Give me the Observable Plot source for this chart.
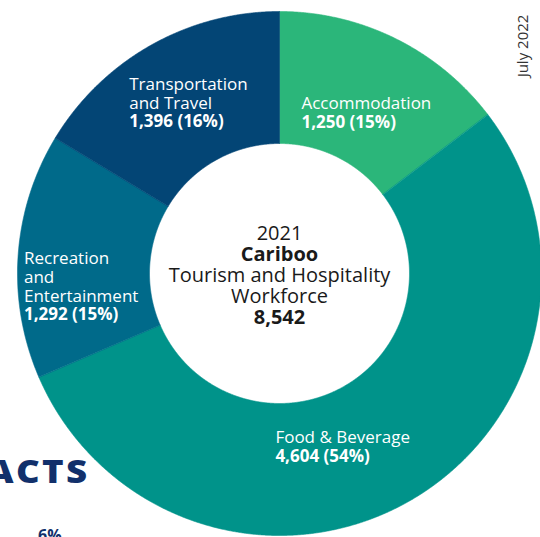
<!DOCTYPE html>
<html><head><meta charset="utf-8">
<script src="https://cdn.jsdelivr.net/npm/d3@7"></script>
<script src="https://cdn.jsdelivr.net/npm/@observablehq/plot@0.6"></script>
<style>
body{margin:0;background:#fff;}
#wrap{position:relative;width:540px;height:537px;overflow:hidden;font-family:"Open Sans",sans-serif;}
#wrap svg{position:absolute;left:0;top:0;}
.side{position:absolute;left:522px;top:46px;transform:translate(-50%,-50%) rotate(-90deg);font-size:15px;color:#333;white-space:nowrap;}
.facts{position:absolute;right:450px;top:450px;font-size:31px;font-weight:800;color:#12306b;letter-spacing:2px;white-space:nowrap;transform:scaleX(1.18);transform-origin:right center;}
.pct{position:absolute;left:38px;top:524px;font-size:16px;font-weight:700;color:#12306b;}
</style></head><body><div id="wrap"></div>
<script>
const categories = ["Accommodation", "Food & Beverage", "Recreation and Entertainment", "Transportation and Travel"];
const labelLines = [["Accommodation"], ["Food & Beverage"], ["Recreation", "and", "Entertainment"], ["Transportation", "and Travel"]];
const values = [1250, 4604, 1292, 1396];
const colors = ["#2bb67a", "#00938a", "#006a8a", "#034575"];
const centerLines = ["2021", "Cariboo", "Tourism and Hospitality", "Workforce", "8,542"];
const centerBold = [false, true, false, false, true];

// layout (pixels)
const W = 540, H = 537, CX = 279, CY = 273, R_OUT = 262, R_IN = 130;
const labelOffsets = [[-65, 11], [-103, 0], [-60, 4], [-54, -13]];
const LH = 18.8, CLH = 21;

const total = d3.sum(values);
const arcs = d3.pie().sort(null).value(d => d)(values);
const u = px => px / R_OUT;

const polys = [];
arcs.forEach((a, i) => {
  const n = Math.max(4, Math.ceil((a.endAngle - a.startAngle) / 0.004));
  for (let k = 0; k <= n; k++) {
    const t = a.startAngle + (a.endAngle - a.startAngle) * k / n;
    polys.push({cat: categories[i], x: Math.sin(t), y: Math.cos(t)});
  }
  for (let k = n; k >= 0; k--) {
    const t = a.startAngle + (a.endAngle - a.startAngle) * k / n;
    polys.push({cat: categories[i], x: u(R_IN) * Math.sin(t), y: u(R_IN) * Math.cos(t)});
  }
});

const rMid = u((R_OUT + R_IN) / 2);
const regLines = [], boldLines = [];
arcs.forEach((a, i) => {
  const m = (a.startAngle + a.endAngle) / 2;
  const x0 = rMid * Math.sin(m) + u(labelOffsets[i][0]);
  const y0 = rMid * Math.cos(m) - u(labelOffsets[i][1]);
  labelLines[i].forEach((t, j) => regLines.push({x: x0, y: y0 - u(j * LH), text: t}));
  const v = values[i];
  boldLines.push({x: x0, y: y0 - u(labelLines[i].length * LH),
    text: `${d3.format(",")(v)} (${Math.round(100 * v / total)}%)`});
});
const centerData = centerLines.map((t, i) => ({x: 0, y: -u((i - 2) * CLH + 8), text: t, bold: centerBold[i]}));

const chart = Plot.plot({
  width: W, height: H, margin: 0,
  x: {domain: [-u(CX), u(W - CX)], range: [0, W], axis: null},
  y: {domain: [-u(H - CY), u(CY)], range: [H, 0], axis: null},
  color: {domain: categories, range: colors},
  style: {fontFamily: "'Open Sans', sans-serif", background: "transparent"},
  marks: [
    Plot.line(polys, {x: "x", y: "y", z: "cat", fill: "cat", stroke: "cat", strokeWidth: 0.6, curve: "linear-closed"}),
    Plot.text(regLines, {x: "x", y: "y", text: "text", textAnchor: "start", lineAnchor: "bottom", fill: "white", fontSize: 17}),
    Plot.text(boldLines, {x: "x", y: "y", text: "text", textAnchor: "start", lineAnchor: "bottom", fill: "white", fontSize: 17, fontWeight: "bold"}),
    Plot.text(centerData.filter(d => !d.bold), {x: "x", y: "y", text: "text", lineAnchor: "bottom", fill: "#1a1a1a", fontSize: 20}),
    Plot.text(centerData.filter(d => d.bold), {x: "x", y: "y", text: "text", lineAnchor: "bottom", fill: "#1a1a1a", fontSize: 20, fontWeight: "bold"})
  ]
});
const wrap = document.getElementById("wrap");
wrap.appendChild(chart);
wrap.insertAdjacentHTML("beforeend", '<div class="side">July 2022</div><div class="facts">FACTS</div><div class="pct">6%</div>');
</script>
</body></html>
